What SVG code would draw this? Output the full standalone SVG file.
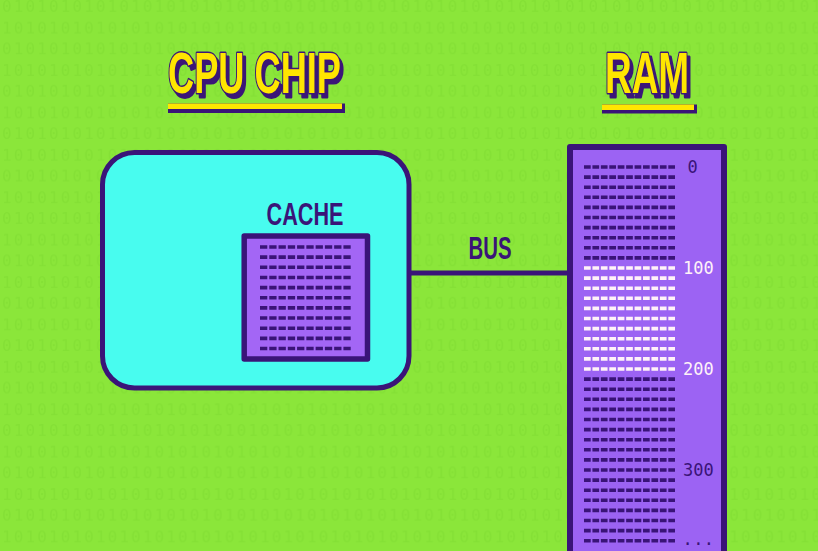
<svg xmlns="http://www.w3.org/2000/svg" xmlns:xlink="http://www.w3.org/1999/xlink" width="818" height="551" viewBox="0 0 818 551">
<style>
.bin{font-family:"DejaVu Sans Mono","Liberation Mono",monospace;font-size:16px;letter-spacing:2.1px;fill:#62c21f}
.ttl{font-family:"Liberation Sans","DejaVu Sans",sans-serif;font-weight:bold;font-size:57px;fill:#ffe600;stroke:#3a1478;stroke-width:3;paint-order:stroke;stroke-linejoin:round;filter:url(#shadow)}
.lbl{font-family:"Liberation Sans","DejaVu Sans",sans-serif;font-weight:bold;font-size:32px;fill:#3a1478}
.box{stroke:#3a1478;stroke-linejoin:round}
.dash{fill:none;stroke-width:3.6;stroke-linecap:butt}
.cdash{stroke-dasharray:7.3 1.97}
.rdash{stroke-dasharray:6.7 1.73}
.dk{stroke:#3a1478}
.wh{stroke:#fff2f8}
.num{font-family:"DejaVu Sans Mono","Liberation Mono",monospace;font-size:17px}
.numdk{fill:#3a1478}
.numwh{fill:#fff2f8}
.wire{stroke:#3a1478;stroke-width:5;fill:none}
</style>
<defs>
<filter id="shadow" x="-10%" y="-20%" width="130%" height="150%">
<feOffset in="SourceAlpha" dx="2.5" dy="3.5" result="off"/>
<feFlood flood-color="#3a1478"/>
<feComposite in2="off" operator="in" result="sh"/>
<feMerge><feMergeNode in="sh"/><feMergeNode in="SourceGraphic"/></feMerge>
</filter>
<pattern id="binary" patternUnits="userSpaceOnUse" x="2" y="0" width="93.84" height="42.4">
<text class="bin" x="0" y="12">01010101</text>
<text class="bin" x="0" y="33.2">10101010</text>
</pattern>
<line id="crow" x1="260" y1="0" x2="350.7" y2="0"/>
<line id="rrow" x1="584" y1="0" x2="675" y2="0"/>
</defs>
<g id="background">
<rect width="818" height="551" fill="#8be63a"/>
<rect width="818" height="551" fill="url(#binary)" opacity="0.17"/>
</g>
<g id="title-cpu">
<rect x="168" y="103.5" width="177" height="9.5" fill="#3a1478"/>
<rect x="168" y="103.5" width="174" height="5.5" fill="#ffe600"/>
<text class="ttl" x="168" y="93" textLength="173" lengthAdjust="spacingAndGlyphs">CPU CHIP</text>
</g>
<g id="title-ram">
<rect x="602" y="104.5" width="95" height="9" fill="#3a1478"/>
<rect x="602" y="104.5" width="92" height="5.5" fill="#ffe600"/>
<text class="ttl" x="605" y="93" textLength="84" lengthAdjust="spacingAndGlyphs">RAM</text>
</g>
<g id="connectors">
<line class="wire" x1="409" y1="273" x2="571" y2="273"/>
<text class="lbl" x="490" y="259" text-anchor="middle" textLength="43" lengthAdjust="spacingAndGlyphs">BUS</text>
</g>
<g id="cpu-chip">
<rect class="box" x="102.5" y="152.5" width="306.5" height="235.5" rx="32" fill="#48fcef" stroke-width="5"/>
</g>
<g id="cache">
<text class="lbl" x="305" y="225" text-anchor="middle" textLength="77" lengthAdjust="spacingAndGlyphs">CACHE</text>
<rect class="box" x="244.2" y="236" width="123.3" height="123" fill="#a366f5" stroke-width="5.5"/>
<g class="dash cdash dk">
<use xlink:href="#crow" y="247"/>
<use xlink:href="#crow" y="257.15"/>
<use xlink:href="#crow" y="267.3"/>
<use xlink:href="#crow" y="277.45"/>
<use xlink:href="#crow" y="287.6"/>
<use xlink:href="#crow" y="297.75"/>
<use xlink:href="#crow" y="307.9"/>
<use xlink:href="#crow" y="318.05"/>
<use xlink:href="#crow" y="328.2"/>
<use xlink:href="#crow" y="338.35"/>
<use xlink:href="#crow" y="348.5"/>
</g>
</g>
<g id="ram">
<rect class="box" x="570" y="147" width="154" height="450" fill="#9c63f3" stroke-width="6"/>
<g class="dash rdash dk">
<use xlink:href="#rrow" y="167"/>
<use xlink:href="#rrow" y="177.1"/>
<use xlink:href="#rrow" y="187.2"/>
<use xlink:href="#rrow" y="197.3"/>
<use xlink:href="#rrow" y="207.4"/>
<use xlink:href="#rrow" y="217.5"/>
<use xlink:href="#rrow" y="227.6"/>
<use xlink:href="#rrow" y="237.7"/>
<use xlink:href="#rrow" y="247.8"/>
<use xlink:href="#rrow" y="257.9"/>
</g>
<g class="dash rdash wh">
<use xlink:href="#rrow" y="268"/>
<use xlink:href="#rrow" y="278.1"/>
<use xlink:href="#rrow" y="288.2"/>
<use xlink:href="#rrow" y="298.3"/>
<use xlink:href="#rrow" y="308.4"/>
<use xlink:href="#rrow" y="318.5"/>
<use xlink:href="#rrow" y="328.6"/>
<use xlink:href="#rrow" y="338.7"/>
<use xlink:href="#rrow" y="348.8"/>
<use xlink:href="#rrow" y="358.9"/>
<use xlink:href="#rrow" y="369"/>
</g>
<g class="dash rdash dk">
<use xlink:href="#rrow" y="379.1"/>
<use xlink:href="#rrow" y="389.2"/>
<use xlink:href="#rrow" y="399.3"/>
<use xlink:href="#rrow" y="409.4"/>
<use xlink:href="#rrow" y="419.5"/>
<use xlink:href="#rrow" y="429.6"/>
<use xlink:href="#rrow" y="439.7"/>
<use xlink:href="#rrow" y="449.8"/>
<use xlink:href="#rrow" y="459.9"/>
<use xlink:href="#rrow" y="470"/>
<use xlink:href="#rrow" y="480.1"/>
<use xlink:href="#rrow" y="490.2"/>
<use xlink:href="#rrow" y="500.3"/>
<use xlink:href="#rrow" y="510.4"/>
<use xlink:href="#rrow" y="520.5"/>
<use xlink:href="#rrow" y="530.6"/>
<use xlink:href="#rrow" y="540.7"/>
</g>
<text class="num numdk" x="687.5" y="173">0</text>
<text class="num numwh" x="683" y="274">100</text>
<text class="num numwh" x="683" y="375">200</text>
<text class="num numdk" x="683" y="476">300</text>
<text class="num numdk" x="682.6" y="545" letter-spacing="0.4">...</text>
</g>
</svg>
